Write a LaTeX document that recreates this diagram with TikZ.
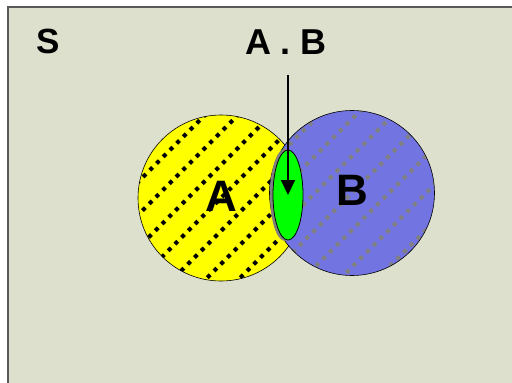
\documentclass[tikz,border=0pt]{standalone}
\usepackage{fontspec}
\setmainfont{Liberation Sans}
\usetikzlibrary{arrows.meta,shapes.geometric}
\definecolor{bg}{RGB}{221,224,204}
\definecolor{setA}{RGB}{255,255,0}
\definecolor{setB}{RGB}{114,116,226}
\definecolor{hatchB}{RGB}{128,128,128}
\definecolor{inter}{RGB}{0,255,0}

\begin{document}
\begin{tikzpicture}[x=1pt,y=-1pt,>=Stealth,font=\bfseries]
\useasboundingbox(0,0) rectangle (512,383);
\fill[white](0,0) rectangle (512,383);
\draw[line width=2pt,gray!70!black,fill=bg](8,7) rectangle (516,388);
% set A
\fill[setA](221,198) circle (83);
\begin{scope}
\clip(221,198) circle (83);
\foreach \k in {-7,...,7}
\draw[line width=4pt,dash pattern=on 4pt off 5.5pt](221+\k*33-120,318)--++(240,-240);
\end{scope}
\draw[line width=0.6pt](221,198) circle (83);
% set B
\fill[setB](352,193) circle (82.5);
\begin{scope}
\clip(352,193) circle (82.5);
\foreach \k in {-7,...,7}
\draw[hatchB,line width=4pt,dash pattern=on 4pt off 5.5pt](352+\k*37-120,313)--++(240,-240);
\end{scope}
\draw[line width=0.6pt](352,193) circle (82.5);
% A.B
\fill[gray](285,195) ellipse (15 and 46);
\node[ellipse,draw,line width=0.8pt,fill=inter,minimum width=30pt,minimum height=90pt,inner sep=0pt](AandB) at (288,195){};
\node(A) at (221,196){\fontsize{44}{50}\selectfont A};
\node(B) at (352,190){\fontsize{44}{50}\selectfont B};
\node(S) at (48,41){\fontsize{35}{40}\selectfont S};
\node(AB) at (286,42){\fontsize{36}{42}\selectfont A . B};
\draw[-{Triangle[width=14pt,length=15pt]},line width=2pt,shorten <=17pt](AB.south-|AandB.center)--(AandB.center);
\end{tikzpicture}
\end{document}
